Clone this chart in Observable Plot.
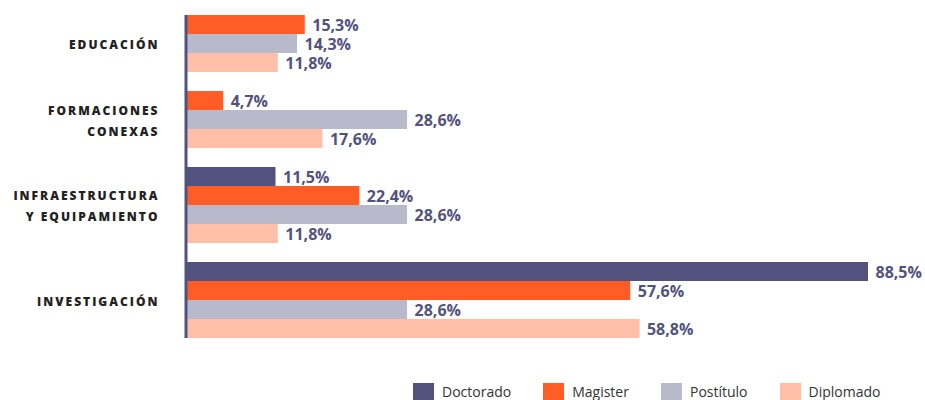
<!DOCTYPE html>
<html><head><meta charset="utf-8">
<script src="https://cdn.jsdelivr.net/npm/d3@7"></script>
<script src="https://cdn.jsdelivr.net/npm/@observablehq/plot@0.6"></script>
<style>
body{margin:0;background:#fff;}
div.lg-swatches{font-family:"Open Sans",sans-serif !important;font-size:14px !important;color:#333 !important;margin:0 0 0 413px !important;}
div.lg-swatches .lg-swatch{margin-right:32px !important;}
div.lg-swatches .lg-swatch > svg{margin-right:8px !important;}
</style></head><body><div id="chart"></div>
<script>
const categories = ["EDUCACIÓN", "FORMACIONES\nCONEXAS", "INFRAESTRUCTURA\nY EQUIPAMIENTO", "INVESTIGACIÓN"];
const series = ["Doctorado", "Magister", "Postítulo", "Diplomado"];
const colors = ["#52527f", "#ff5c26", "#b9b9cc", "#ffbea8"];
const doctorado = [null, null, 11.5, 88.5];
const magister = [15.3, 4.7, 22.4, 57.6];
const postitulo = [14.3, 28.6, 28.6, 28.6];
const diplomado = [11.8, 17.6, 11.8, 58.8];
const seriesValues = [doctorado, magister, postitulo, diplomado];

const rows = [], groups = [];
let r = 0;
categories.forEach((c, i) => {
  const start = r;
  series.forEach((s, j) => {
    const v = seriesValues[j][i];
    if (v != null) { rows.push({category: c, series: s, value: v, r}); r++; }
  });
  groups.push({label: c, mid: (start + r) / 2});
  r++;
});
const total = r - 1;
const fmt = v => d3.format(".1f")(v).replace(".", ",") + "%";

const plot = Plot.plot({
  width: 925, height: 375,
  marginLeft: 187, marginRight: 57, marginTop: 15, marginBottom: 37,
  x: {domain: [0, d3.max(rows, d => d.value)], axis: null},
  y: {domain: [0, total], range: [15, 338], axis: null},
  color: {domain: series, range: colors},
  style: {fontFamily: "Open Sans", background: "#fff"},
  marks: [
    Plot.rect(rows, {x1: d => 0, x2: "value", y1: "r", y2: d => d.r + 1, fill: "series"}),
    Plot.ruleX([0], {y1: d => 0, y2: d => total, stroke: "#52527f", strokeWidth: 3, dx: -1.5}),
    Plot.text(rows, {x: "value", y: d => d.r + 0.5, text: d => fmt(d.value), textAnchor: "start", dx: 7, dy: 1, fill: "#52527f", fontWeight: 700, fontSize: 16}),
    Plot.text(groups, {x: d => 0, y: "mid", text: "label", textAnchor: "end", dx: -28, dy: -1.5, fill: "#222", fontWeight: 800, fontSize: 12, lineHeight: 1.75})
  ]
});
const textGroups = d3.select(plot).selectAll('g[aria-label="text"]').nodes();
d3.select(textGroups[textGroups.length - 1]).style("letter-spacing", "2px");
document.getElementById("chart").appendChild(plot);
const legend = Plot.legend({color: {domain: series, range: colors}, legend: "swatches", swatchWidth: 21, swatchHeight: 17, className: "lg"});
document.getElementById("chart").appendChild(legend);
</script></body></html>
